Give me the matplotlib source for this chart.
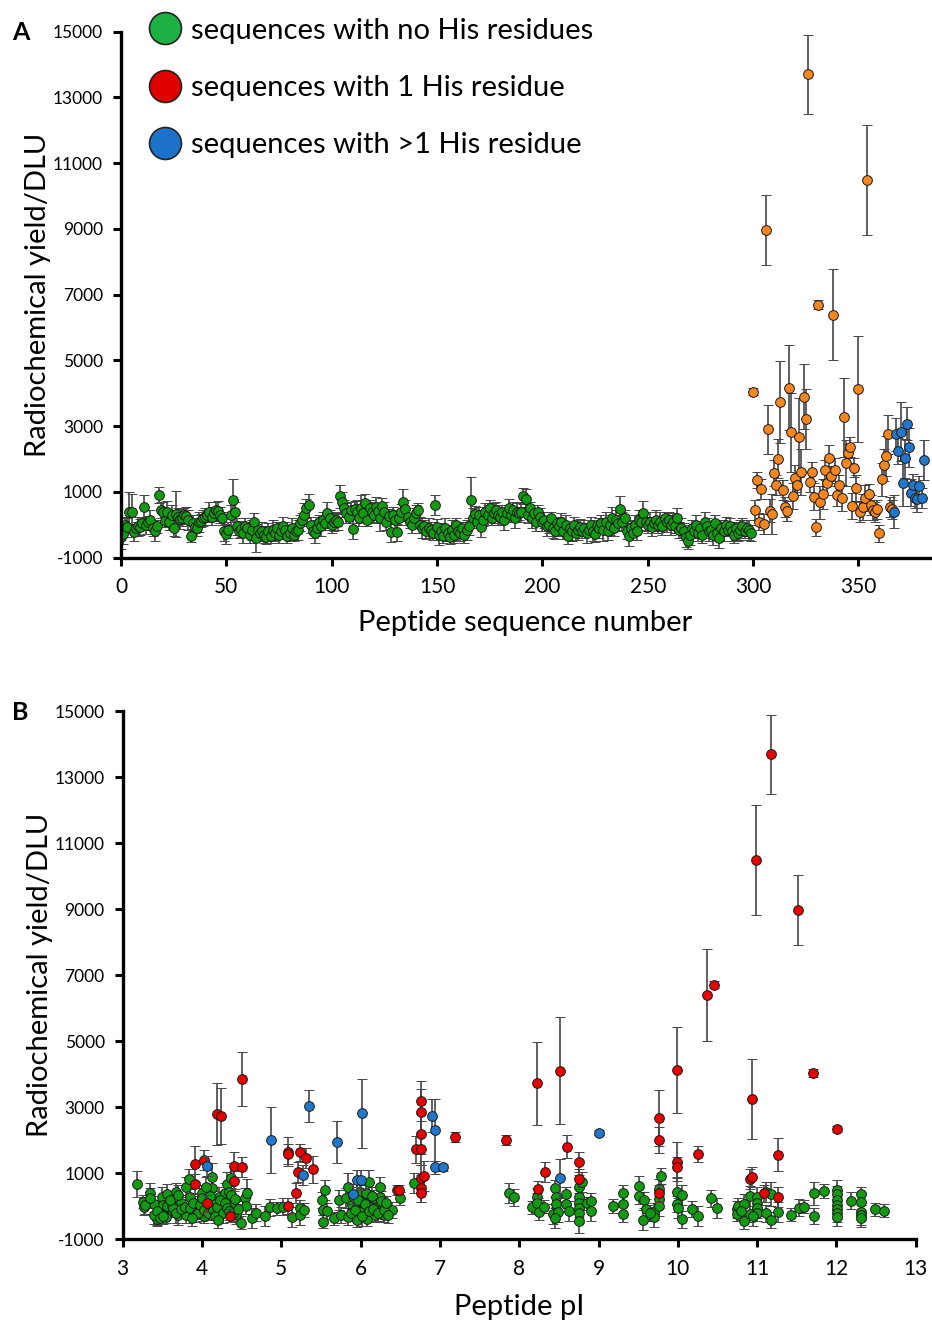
import matplotlib
matplotlib.use("Agg")
import matplotlib.pyplot as plt
from matplotlib.lines import Line2D
import numpy as np

plt.rcParams['font.family'] = ['Lato', 'DejaVu Sans']
plt.rcParams['axes.unicode_minus'] = False

# ---------------- Panel A data ----------------
a_green_y = [
    -380, -280, 0, -80, 400, 400, -230, -100, -50, -60,
    50, 550, -20, 80, 150, -100, -200, -50, 900, 450,
    400, 120, 380, 100, 300, -100, 320, 250, 180, 220,
    300, 280, 150, -330, 50, -60, -100, 80, 120, 200,
    250, 300, 400, 250, 350, 450, 420, 300, 200, -200,
    -280, -150, 300, 750, 400, -50, -200, -120, -250, -50,
    -100, -300, -150, 100, -400, -150, -250, -200, -300, -380,
    -200, -350, -150, -250, -100, -300, -200, -50, -150, -350,
    -250, -100, -300, -200, -150, 50, 150, 300, 500, 600,
    0, -200, -250, -100, 100, -50, 150, 50, 350, 200,
    0, 100, 150, 80, 870, 700, 500, 350, 250, 450,
    -130, 480, 400, 200, 520, 350, 650, 150, 500, 380,
    300, 550, 420, 200, 560, 400, 100, 280, -230, 300,
    150, -230, 200, 380, 680, 470, 250, 100, 0, 220,
    350, 450, 0, -100, -50, -180, -100, -150, -250, 600,
    -80, -300, -200, -350, -100, -250, -380, -150, -300, 0,
    -200, -250, -100, -300, -150, -50, 760, 200, 320, 100,
    300, -80, 150, 400, 300, 500, 200, 350, 450, 300,
    250, 400, 150, 350, 500, 300, 450, 200, 400, 350,
    400, 870, 800, 300, 500, 200, 350, 100, 400, 250,
    100, 150, -50, 0, 200, -100, -180, 50, -50, 100,
    -180, 0, -340, -100, -200, 0, -250, -150, -80, -200,
    -100, -250, -150, 0, -200, -280, -50, -100, 50, -150,
    100, -200, 0, 200, -100, 150, 50, 480, 100, 200,
    -180, -330, -100, -250, 0, -200, 150, 80, 360, 100,
    0, 100, -80, 50, 150, 0, 100, -50, 200, 80,
    150, 0, 100, -50, 200, -150, -100, -200, -380, -500,
    -300, -100, -200, 0, -250, -100, -300, 100, -50, -200,
    -150, -300, 50, -250, -400, -100, -200, 0, -150, -50,
    -200, -300, -100, -250, -150, -50, -200, -100, -150, -250,
]
a_green_err = [
    350, 300, 250, 300, 600, 550, 250, 200, 300, 250,
    200, 350, 250, 200, 300, 250, 300, 200, 250, 250,
    300, 200, 350, 250, 300, 250, 700, 250, 300, 250,
    200, 250, 300, 200, 250, 200, 250, 300, 200, 250,
    250, 200, 300, 250, 200, 250, 300, 250, 200, 300,
    300, 250, 300, 650, 300, 250, 200, 250, 300, 250,
    200, 250, 300, 250, 440, 250, 200, 300, 250, 200,
    250, 200, 300, 250, 200, 250, 200, 300, 250, 200,
    250, 300, 200, 250, 300, 250, 200, 350, 300, 350,
    250, 200, 300, 250, 200, 300, 250, 200, 350, 250,
    250, 300, 200, 250, 350, 300, 250, 300, 200, 250,
    300, 250, 350, 250, 400, 250, 300, 200, 250, 300,
    250, 300, 200, 400, 250, 300, 250, 200, 300, 250,
    300, 250, 200, 250, 400, 300, 250, 200, 250, 300,
    250, 200, 250, 300, 200, 250, 300, 250, 200, 300,
    250, 300, 250, 200, 300, 250, 200, 300, 250, 200,
    300, 250, 200, 250, 300, 250, 700, 300, 250, 200,
    250, 300, 200, 250, 300, 250, 200, 300, 250, 300,
    250, 200, 300, 250, 300, 200, 250, 300, 250, 200,
    300, 250, 300, 250, 200, 300, 250, 300, 200, 250,
    300, 250, 300, 250, 200, 300, 250, 200, 300, 250,
    250, 300, 250, 200, 300, 250, 200, 300, 250, 200,
    250, 300, 200, 250, 300, 250, 200, 300, 250, 350,
    300, 250, 300, 350, 250, 300, 250, 400, 300, 250,
    250, 300, 250, 200, 300, 250, 300, 250, 350, 300,
    250, 300, 250, 200, 300, 250, 300, 250, 200, 300,
    250, 300, 250, 200, 300, 250, 300, 250, 300, 250,
    300, 250, 200, 300, 250, 200, 250, 300, 250, 300,
    250, 300, 250, 200, 300, 250, 300, 250, 200, 250,
    300, 250, 200, 250, 300, 250, 200, 250, 300, 250,
]
a_green_x = list(range(len(a_green_y)))

a_orange_x = list(range(300, 367))
a_orange_y = [
    4050, 450, 1360, 100, 1080, 30, 8970, 2900, 430, 330,
    1580, 1210, 2010, 3740, 1060, 550, 430, 4170, 2820, 880,
    1410, 1210, 2660, 1600, 3900, 3220, 13700, 1310, 1620, 860,
    -80, 6700, 680, 940, 1670, 1260, 2040, 1480, 6390, 1670,
    910, 1210, 820, 3270, 1880, 2170, 2360, 580, 1740, 1130,
    4130, 400, 550, 810, 10490, 940, 600, 450, 400, 470,
    -260, 1380, 1820, 2100, 2750, 550, 470,
]
a_orange_err = [
    100, 300, 250, 250, 300, 300, 1060, 750, 350, 600,
    400, 300, 600, 1250, 300, 300, 300, 1300, 1200, 400,
    400, 300, 1200, 700, 1000, 900, 1200, 300, 300, 400,
    250, 150, 500, 450, 300, 350, 400, 300, 1390, 350,
    350, 300, 400, 1200, 700, 300, 300, 400, 300, 400,
    1600, 300, 400, 400, 1670, 300, 300, 300, 300, 300,
    250, 500, 500, 600, 600, 300, 300,
]
a_blue_x = list(range(367, 382))
a_blue_y = [400, 2750, 2240, 2830, 1260, 2020, 3070, 2360, 980, 1200,
            810, 780, 1180, 820, 1970]
a_blue_err = [500, 500, 400, 900, 700, 600, 500, 600, 400, 350,
              300, 400, 300, 300, 600]

# ---------------- Panel B data ----------------
b_green_pi = [
    3.18, 3.26, 3.27, 3.34, 3.39, 3.43, 3.43, 3.47, 3.49, 3.51,
    3.55, 3.56, 3.59, 3.62, 3.66, 3.67, 3.70, 3.73, 3.76, 3.80,
    3.80, 3.83, 3.85, 3.92, 3.95, 4.00, 4.00, 4.02, 4.06, 4.10,
    4.13, 4.13, 4.16, 4.21, 4.23, 4.27, 4.29, 4.31, 4.34, 4.36,
    4.37, 4.39, 4.43, 4.49, 4.54, 4.57, 4.55, 4.63, 4.68, 4.79,
    4.86, 4.94, 5.02, 5.13, 5.24, 5.24, 5.29, 5.51, 5.53, 5.53,
    5.55, 5.58, 5.66, 5.73, 5.75, 5.82, 5.84, 5.84, 5.89, 5.95,
    5.96, 5.99, 6.00, 6.03, 6.07, 6.08, 6.11, 6.12, 6.17, 6.18,
    6.20, 6.24, 6.24, 6.28, 6.29, 6.40, 6.50, 6.67, 3.28, 3.39,
    3.43, 3.47, 3.51, 3.56, 3.62, 3.64, 3.67, 3.73, 3.79, 3.85,
    3.89, 3.92, 3.95, 3.97, 4.00, 4.03, 4.07, 4.10, 4.14, 4.17,
    4.19, 4.23, 4.26, 4.29, 4.31, 4.34, 4.36, 4.39, 4.42, 4.45,
    5.88, 5.91, 5.93, 5.97, 6.02, 6.05, 6.10, 6.14, 6.16, 6.22,
    6.26, 6.30, 6.32, 6.35, 3.35, 3.60, 3.70, 3.88, 4.05, 4.20,
    7.87, 7.94, 8.16, 8.22, 8.22, 8.25, 8.31, 8.42, 8.45, 8.46,
    8.46, 8.49, 8.45, 8.59, 8.59, 8.63, 8.75, 8.79, 8.75, 8.75,
    8.75, 8.75, 8.75, 8.85, 8.90, 8.90, 9.18, 9.31, 9.31, 9.31,
    9.51, 9.51, 9.58, 9.60, 9.56, 9.70, 9.70, 9.76, 9.76, 9.76,
    9.79, 9.99, 10.05, 9.99, 10.00, 10.05, 10.18, 10.26, 10.42, 10.49,
    10.75, 10.75, 10.76, 10.84, 10.83, 10.91, 10.91, 11.00, 11.00, 11.00,
    11.00, 11.11, 11.11, 11.18, 11.18, 11.26, 11.43, 11.53, 11.59, 11.72,
    11.72, 11.84, 12.01, 12.01, 12.01, 12.01, 12.01, 12.01, 12.01, 12.19,
    12.31, 12.31, 12.31, 12.31, 12.31, 12.49, 12.60, 10.80, 10.95, 9.65,
]
b_green_y = [
    667, 141, -10, 394, 71, -263, -394, -192, 293, 40,
    -313, 374, 91, -111, 141, 444, -263, 91, -111, 596,
    -263, 818, 293, -61, 111, 394, -141, -293, 40, 141,
    899, 545, 91, 293, -263, 91, 394, 677, 444, 848,
    242, 40, -242, -495, 242, 414, 10, -364, -192, -293,
    -30, -61, -10, -313, -61, -263, -111, 192, -111, -465,
    495, -141, -364, 192, -263, 242, 596, -313, 40, 141,
    -414, 424, -162, 141, 394, -394, 747, -10, 242, -263,
    -61, 596, 293, 40, -263, -111, 242, 697, 30, -250,
    -150, -350, -300, 20, 10, -60, -200, -70, -20, -40,
    100, -230, -190, 50, 250, -100, -200, 300, -120, -300,
    -30, 200, -210, 100, -60, -150, 330, -210, 230, -80,
    -200, 300, -100, 180, -300, 60, -150, 320, -80, -200,
    150, -120, 100, -250, 250, 200, 350, -350, 600, -400,
    414, 273, -30, 293, 111, -162, -10, -242, 545, 293,
    70, -162, -364, 374, 70, -141, 596, 747, 293, 90,
    -61, -212, -444, 90, 161, -141, 10, 394, 70, -232,
    616, 313, 192, -91, -414, -162, -313, 515, 212, 10,
    919, 444, 343, 70, -61, -394, -81, -283, 242, -61,
    -91, -242, 10, 70, -434, 323, -232, 293, 111, -61,
    -192, 444, -212, 374, -414, -162, -252, -40, -10, 394,
    -293, 465, 495, 374, 192, 40, -91, -212, -333, 172,
    374, 141, -162, -262, -364, -91, -131, -150, -300, -200,
]
b_green_err = [
    400, 200, 250, 300, 250, 300, 200, 250, 300, 250,
    200, 300, 250, 200, 300, 250, 300, 250, 200, 300,
    250, 300, 250, 200, 300, 250, 300, 200, 250, 300,
    400, 350, 250, 300, 250, 200, 300, 350, 300, 450,
    300, 250, 300, 200, 300, 400, 250, 300, 250, 300,
    250, 200, 250, 300, 250, 300, 200, 250, 300, 200,
    300, 250, 200, 300, 250, 300, 400, 250, 300, 250,
    200, 300, 250, 300, 250, 200, 350, 300, 250, 200,
    250, 300, 350, 250, 200, 250, 200, 300, 250, 300,
    250, 200, 250, 300, 250, 200, 300, 250, 200, 250,
    300, 250, 200, 250, 300, 250, 200, 300, 250, 200,
    300, 250, 300, 250, 200, 250, 300, 250, 300, 250,
    250, 300, 250, 200, 300, 250, 300, 250, 200, 250,
    300, 250, 200, 250, 300, 250, 300, 250, 300, 250,
    300, 250, 200, 250, 300, 250, 200, 300, 250, 300,
    250, 300, 300, 200, 250, 300, 350, 300, 250, 300,
    250, 300, 350, 200, 250, 300, 200, 250, 300, 250,
    300, 250, 250, 300, 300, 250, 300, 300, 250, 300,
    250, 400, 300, 250, 300, 250, 250, 300, 250, 300,
    250, 200, 250, 300, 250, 300, 250, 300, 250, 300,
    250, 300, 250, 350, 250, 300, 200, 250, 200, 350,
    250, 200, 300, 250, 300, 250, 300, 250, 250, 250,
    200, 300, 250, 300, 250, 200, 200, 250, 300, 250,
]
b_red_pi = [
    3.91, 3.91, 4.02, 4.19, 4.24, 4.40, 4.40, 4.51, 4.51, 4.06,
    4.35, 5.08, 5.08, 5.09, 5.18, 5.21, 5.24, 5.31, 5.40, 6.70,
    6.76, 6.76, 6.76, 6.76, 6.76, 6.76, 6.76, 6.80, 6.46, 6.49,
    7.19, 7.83, 8.23, 8.51, 8.33, 8.24, 8.60, 8.75, 8.75, 9.76,
    9.76, 9.76, 9.99, 9.99, 9.99, 10.26, 10.37, 10.46, 10.94, 10.91,
    10.94, 11.26, 11.26, 11.71, 12.01, 10.98, 11.17, 11.51, 11.09,
]
b_red_y = [
    1273, 667, 1404, 2798, 2737, 1232, 778, 1202, 3858, 90,
    -283, 1656, 1576, 10, 394, 1030, 1636, 1454, 1121, 1727,
    1737, 2182, 2868, 3192, 848, 545, 394, 919, 495, 495,
    2090, 2010, 3727, 4111, 1050, 515, 1808, 1333, 818, 2666,
    2010, 394, 4131, 1353, 1182, 1586, 6400, 6720, 3252, 838,
    899, 1555, 293, 4050, 2343, 10490, 13700, 8970, 394,
]
b_red_err = [
    550, 300, 300, 950, 850, 400, 300, 300, 810, 250,
    200, 430, 300, 250, 300, 300, 250, 300, 400, 400,
    500, 600, 700, 600, 400, 400, 250, 450, 150, 150,
    150, 150, 1260, 1630, 300, 250, 350, 300, 300, 850,
    400, 250, 1300, 600, 300, 230, 1400, 100, 1200, 300,
    300, 500, 300, 120, 100, 1670, 1200, 1060, 250,
]
b_blue_pi = [4.06, 4.87, 5.27, 5.35, 5.70, 6.02, 5.95, 6.00, 5.91, 6.90,
             6.94, 6.94, 7.04, 9.00, 8.51]
b_blue_y = [1232, 2000, 950, 3040, 1940, 2818, 798, 798, 374, 2737,
            2313, 1182, 1182, 2232, 848]
b_blue_err = [300, 1000, 300, 480, 640, 1050, 300, 300, 300, 500,
              950, 200, 100, 80, 600]

legend_labels = ["sequences with no His residues",
                 "sequences with 1 His residue",
                 "sequences with >1 His residue"]
yticks = [-1000, 1000, 3000, 5000, 7000, 9000, 11000, 13000, 15000]

GREEN = "#139a13"
ORANGE = "#f7861f"
RED = "#e60000"
BLUE = "#1f78cc"
LEG_GREEN = "#1db042"
LEG_RED = "#e00000"
LEG_BLUE = "#1c72c9"
ECOL = "#454545"

W, H = 932, 1327
fig = plt.figure(figsize=(W / 100, H / 100), dpi=100)

axA = fig.add_axes([121 / W, 1 - 557.7 / H, 809 / W, 526 / H])
axB = fig.add_axes([122.7 / W, 1 - 1239.3 / H, 793 / W, 528 / H])


def draw(ax, x, y, e, color, z):
    ax.errorbar(x, y, yerr=e, fmt='o', ms=7, mfc=color, mec='#1a1a1a',
                mew=0.7, ecolor=ECOL, elinewidth=1.2, capsize=3.4,
                capthick=1.1, zorder=z)


draw(axA, a_green_x, a_green_y, a_green_err, GREEN, 2)
draw(axA, a_orange_x, a_orange_y, a_orange_err, ORANGE, 3)
draw(axA, a_blue_x, a_blue_y, a_blue_err, BLUE, 4)

draw(axB, b_green_pi, b_green_y, b_green_err, GREEN, 2)
draw(axB, b_red_pi, b_red_y, b_red_err, RED, 3)
draw(axB, b_blue_pi, b_blue_y, b_blue_err, BLUE, 4)

axA.set_xlim(0, 384)
axA.set_xticks([0, 50, 100, 150, 200, 250, 300, 350])
axB.set_xlim(3, 13)
axB.set_xticks(range(3, 14))

for ax in (axA, axB):
    ax.set_ylim(-1000, 15000)
    ax.set_yticks(yticks)
    for s in ('top', 'right'):
        ax.spines[s].set_visible(False)
    for s in ('left', 'bottom'):
        ax.spines[s].set_linewidth(2.4)
    ax.tick_params(axis='both', direction='out', length=6, width=2.2,
                   labelsize=12.5, pad=7)
    ax.tick_params(axis='x', labelsize=15, pad=8)
    ax.set_ylabel("Radiochemical yield/DLU", fontsize=21, labelpad=1)

axA.set_xlabel("Peptide sequence number", fontsize=21, labelpad=9)
axB.set_xlabel("Peptide pI", fontsize=21, labelpad=11)

fig.text(12 / W, 1 - 33 / H, "A", fontsize=18, fontweight='bold',
         va='center', ha='left')
fig.text(12 / W, 1 - 713 / H, "B", fontsize=18, fontweight='bold',
         va='center', ha='left')

# legend (drawn in figure coordinates)
for i, (c, lab) in enumerate(zip((LEG_GREEN, LEG_RED, LEG_BLUE), legend_labels)):
    yc = 1 - (28 + 57.5 * i) / H
    fig.add_artist(Line2D([165 / W], [yc], transform=fig.transFigure,
                          ls='none', marker='o', ms=23, mfc=c,
                          mec='#222222', mew=1.2))
    fig.text(191 / W, yc, lab, fontsize=21, va='center_baseline', ha='left')

fig.savefig("out.png", dpi=100)
